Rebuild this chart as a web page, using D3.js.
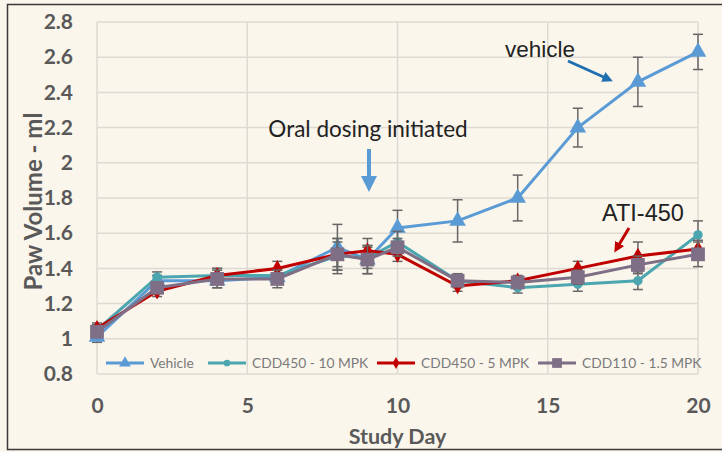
<!DOCTYPE html>
<html><head><meta charset="utf-8">
<script src="https://cdnjs.cloudflare.com/ajax/libs/d3/7.8.5/d3.min.js"></script>
<style>body{margin:0;background:#fff}svg{display:block}</style>
</head><body>
<script>
const days = [0, 2, 4, 6, 8, 9, 10, 12, 14, 16, 18, 20];
const seriesNames = ["Vehicle", "CDD450 - 10 MPK", "CDD450 - 5 MPK", "CDD110 - 1.5 MPK"];
const vehicle     = [1.01, 1.33, 1.33, 1.35, 1.52, 1.45, 1.63, 1.67, 1.80, 2.20, 2.46, 2.63];
const vehicleErr  = [0.03, 0.03, 0.04, 0.04, 0.13, 0.08, 0.10, 0.12, 0.13, 0.11, 0.14, 0.10];
const cdd450_10   = [1.05, 1.35, 1.36, 1.36, 1.47, 1.46, 1.55, 1.33, 1.29, 1.31, 1.33, 1.59];
const cdd450_10E  = [0.03, 0.03, 0.04, 0.04, 0.10, 0.06, 0.06, 0.04, 0.03, 0.04, 0.05, 0.08];
const cdd450_5    = [1.06, 1.27, 1.36, 1.40, 1.48, 1.50, 1.48, 1.30, 1.33, 1.40, 1.47, 1.51];
const cdd450_5E   = [0.03, 0.03, 0.04, 0.04, 0.09, 0.07, 0.04, 0.03, 0.03, 0.04, 0.08, 0.05];
const cdd110      = [1.04, 1.29, 1.34, 1.34, 1.48, 1.45, 1.52, 1.33, 1.32, 1.35, 1.42, 1.48];
const cdd110E     = [0.03, 0.03, 0.05, 0.05, 0.07, 0.08, 0.05, 0.03, 0.03, 0.04, 0.05, 0.07];
const yTicks = [0.8, 1, 1.2, 1.4, 1.6, 1.8, 2, 2.2, 2.4, 2.6, 2.8];
const xTicks = [0, 5, 10, 15, 20];

const W = 722, H = 452;
const svg = d3.select("body").append("svg").attr("width", W).attr("height", H);
svg.append("rect").attr("width", W).attr("height", H).attr("fill", "#FBF6EC");
svg.append("rect").attr("x", 7.5).attr("y", 4.5).attr("width", 720).attr("height", 445)
  .attr("fill", "none").attr("stroke", "#3a3a3a").attr("stroke-width", 1.5);

const x = d3.scaleLinear().domain([0, 20]).range([97, 698]);
const y = d3.scaleLinear().domain([0.8, 2.8]).range([374, 22]);

// grid
const g = svg.append("g");
g.selectAll(".hg").data(yTicks).join("line")
  .attr("x1", x(0)).attr("x2", x(20)).attr("y1", d => y(d)).attr("y2", d => y(d))
  .attr("stroke", "#dedad3").attr("stroke-width", 1.5);
g.selectAll(".vg").data(xTicks).join("line")
  .attr("y1", y(0.8)).attr("y2", y(2.8)).attr("x1", d => x(d)).attr("x2", d => x(d))
  .attr("stroke", "#dedad3").attr("stroke-width", 1.5);

// axes
const font = "Lato, 'Open Sans', sans-serif";
const yAxis = svg.append("g").attr("transform", `translate(${x(0)},0)`)
  .call(d3.axisLeft(y).tickValues(yTicks).tickSize(0).tickPadding(24).tickFormat(d3.format("~g")));
yAxis.select(".domain").remove();
yAxis.selectAll("text").attr("font-family", font).attr("font-weight", "bold")
  .attr("font-size", 21).attr("fill", "#595959");
const xAxis = svg.append("g").attr("transform", `translate(0,${y(0.8)})`)
  .call(d3.axisBottom(x).tickValues(xTicks).tickSize(0).tickPadding(24).tickFormat(d3.format("d")));
xAxis.select(".domain").remove();
xAxis.selectAll("text").attr("font-family", font).attr("font-weight", "bold")
  .attr("font-size", 21).attr("fill", "#595959");

svg.append("text").attr("transform", `translate(42,${y(1.78)}) rotate(-90)`)
  .attr("text-anchor", "middle").attr("font-family", font).attr("font-weight", "bold")
  .attr("font-size", 24).attr("fill", "#595959").text("Paw Volume - ml");
svg.append("text").attr("x", x(10)).attr("y", 444).attr("text-anchor", "middle")
  .attr("font-family", font).attr("font-weight", "bold").attr("font-size", 21.5)
  .attr("fill", "#595959").text("Study Day");

const series = [
  {name: seriesNames[0], vals: vehicle, err: vehicleErr, color: "#5B9BD5", sym: d3.symbolTriangle, size: 120},
  {name: seriesNames[1], vals: cdd450_10, err: cdd450_10E, color: "#4BA6B0", sym: d3.symbolCircle, size: 70},
  {name: seriesNames[2], vals: cdd450_5, err: cdd450_5E, color: "#C00000", sym: d3.symbolDiamond, size: 80},
  {name: seriesNames[3], vals: cdd110, err: cdd110E, color: "#7E6E86", sym: d3.symbolSquare, size: 190}
];

const line = d3.line().x(d => x(d[0])).y(d => y(d[1]));
series.forEach(s => {
  const pts = days.map((d, i) => [d, s.vals[i], s.err[i]]);
  const eg = svg.append("g");
  pts.forEach(p => {
    eg.append("line").attr("x1", x(p[0])).attr("x2", x(p[0])).attr("y1", y(p[1] - p[2])).attr("y2", y(p[1] + p[2]))
      .attr("stroke", "#666").attr("stroke-width", 1.5);
    [p[1] - p[2], p[1] + p[2]].forEach(v => eg.append("line").attr("x1", x(p[0]) - 5).attr("x2", x(p[0]) + 5)
      .attr("y1", y(v)).attr("y2", y(v)).attr("stroke", "#666").attr("stroke-width", 1.5));
  });
  svg.append("path").datum(pts).attr("d", line).attr("fill", "none")
    .attr("stroke", s.color).attr("stroke-width", 3);
  svg.append("g").selectAll("path").data(pts).join("path")
    .attr("transform", p => `translate(${x(p[0])},${y(p[1])})`)
    .attr("d", d3.symbol().type(s.sym).size(s.size)).attr("fill", s.color);
});

// legend
const legX = [106, 208, 377, 538];
const lg = svg.append("g");
series.forEach((s, i) => {
  const lx = legX[i], ly = 363;
  lg.append("line").attr("x1", lx).attr("x2", lx + 38).attr("y1", ly).attr("y2", ly)
    .attr("stroke", s.color).attr("stroke-width", 3);
  lg.append("path").attr("transform", `translate(${lx + 19},${ly})`)
    .attr("d", d3.symbol().type(s.sym).size(s.size * 0.5)).attr("fill", s.color);
  lg.append("text").attr("x", lx + 44).attr("y", ly + 5).attr("font-family", font)
    .attr("font-size", 13.8).attr("fill", "#7a7a7a").text(s.name);
});

// annotations
svg.append("defs").html(`
<marker id="ab" viewBox="0 0 10 10" refX="5" refY="5" markerWidth="4" markerHeight="4" orient="auto"><path d="M0,0L10,5L0,10z" fill="#5B9BD5"/></marker>
<marker id="ad" viewBox="0 0 10 10" refX="5" refY="5" markerWidth="3.5" markerHeight="3.5" orient="auto"><path d="M0,0L10,5L0,10z" fill="#1F6FB0"/></marker>
<marker id="ar" viewBox="0 0 10 10" refX="5" refY="5" markerWidth="3.5" markerHeight="3.5" orient="auto"><path d="M0,0L10,5L0,10z" fill="#C00000"/></marker>`);
svg.append("text").attr("x", 368).attr("y", 137).attr("text-anchor", "middle")
  .attr("font-family", font).attr("font-size", 22.5).attr("fill", "#222").text("Oral dosing initiated");
svg.append("line").attr("x1", 369).attr("x2", 369).attr("y1", 149).attr("y2", 184)
  .attr("stroke", "#5B9BD5").attr("stroke-width", 4).attr("marker-end", "url(#ab)");
svg.append("text").attr("x", 505).attr("y", 57).attr("font-family", "'Liberation Sans', Arial, sans-serif")
  .attr("font-size", 22.5).attr("fill", "#222").text("vehicle");
svg.append("line").attr("x1", 568).attr("x2", 608).attr("y1", 61).attr("y2", 79)
  .attr("stroke", "#1F6FB0").attr("stroke-width", 3).attr("marker-end", "url(#ad)");
svg.append("text").attr("x", 602).attr("y", 221).attr("font-family", "'Liberation Sans', Arial, sans-serif")
  .attr("font-size", 23.5).attr("fill", "#222").text("ATI-450");
svg.append("line").attr("x1", 629).attr("x2", 617).attr("y1", 228).attr("y2", 248)
  .attr("stroke", "#C00000").attr("stroke-width", 3).attr("marker-end", "url(#ar)");
</script>
</body></html>
